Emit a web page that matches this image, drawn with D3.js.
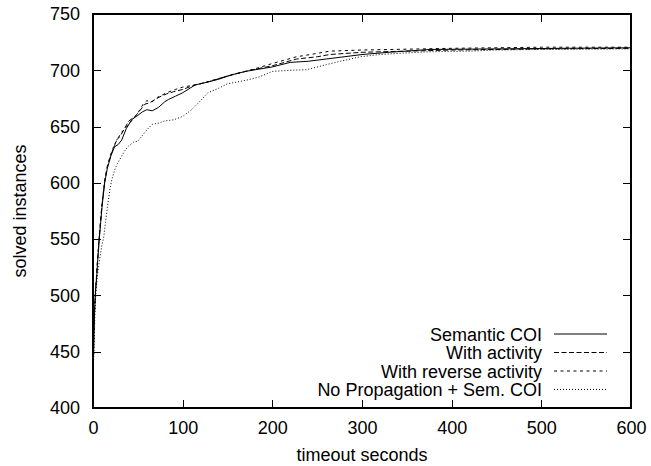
<!DOCTYPE html>
<html>
<head>
<meta charset="utf-8">
<script src="https://cdn.jsdelivr.net/npm/d3@7"></script>
<style>
  html, body { margin: 0; padding: 0; background: #fff; }
  svg { display: block; }
  text { font-family: "Liberation Sans", Arial, Helvetica, sans-serif; font-size: 18px; fill: #000; }
</style>
</head>
<body>
<svg id="chart"></svg>
<script>
// solved instances over timeout as [seconds, instances]
let semanticCOI = [[0,400],[0.5,440],[1,465],[2,490],[3,505],[4,515],[5,528],[7,550],[10,578],[13,600],[16,613],[20,624],[24,632],[28,634],[32,638],[37,648],[43,656],[50,660],[55,663],[60,665],[66,664],[73,667],[80,672],[84,674],[92,677],[100,680],[114,687],[125,689],[140,692],[155,696],[170,699],[185,701],[200,703],[220,707],[240,708],[260,710],[280,712],[300,714],[330,716],[376,718.5],[450,719],[520,719.5],[600,720]]
let withActivity = [[0,400],[0.5,442],[1,467],[2,492],[3,507],[4,517],[5,530],[7,552],[10,580],[13,601],[16,614],[20,625],[24,633],[26,638],[30,641],[35,648],[40,655],[47,659],[52,664],[58,670],[63,671],[69,674],[76,677],[82,679],[90,681],[100,683],[114,687],[130,690],[150,695],[175,700],[200,704],[227,710],[250,712],[264,714],[300,716],[350,717],[400,718],[500,719],[600,719.5]]
let reverseActivity = [[0,400],[0.5,443],[1,468],[2,493],[3,508],[4,518],[5,531],[7,553],[10,581],[13,602],[16,615],[20,626],[24,634],[28,640],[32,645],[40,652],[45,657],[50,662],[56,670],[60,673],[66,672],[72,676],[82,680],[92,683],[100,685],[120,688],[150,695],[175,700],[200,706],[227,712],[250,715],[264,717],[300,718],[400,719.5],[500,720.5],[600,720.5]]
let noPropagation = [[0,400],[0.3,430],[1,452],[2,480],[3,500],[5,518],[7,530],[10,545],[12,552],[14,565],[16,578],[19,595],[21,603],[24,611],[26,615],[30,621],[35,628],[40,633],[45,636],[50,637],[55,642],[60,647],[66,652],[73,653],[80,655],[90,656],[100,659],[110,665],[120,673],[128,680],[140,684],[150,688],[170,691],[185,694],[200,699],[220,700],[238,700.5],[260,705],[276,708],[298,712],[320,714],[340,715],[376,716.5],[420,717],[450,718],[500,718.5],[600,719]]

let seriesNames = ['Semantic COI', 'With activity', 'With reverse activity', 'No Propagation + Sem. COI']
let seriesData = [semanticCOI, withActivity, reverseActivity, noPropagation]
let dashes = [null, '5,2.5', '3,3.5', '1,2']

let xTicks = [0, 100, 200, 300, 400, 500, 600]
let yTicks = [400, 450, 500, 550, 600, 650, 700, 750]

//canvas size and plot box
let width = 651
let height = 466
let boxLeft = 93, boxRight = 631, boxTop = 14, boxBottom = 408

let svg = d3.select('#chart').attr('width', width).attr('height', height)

let xScale = d3.scaleLinear().domain([0, 600]).range([boxLeft, boxRight])
let yScale = d3.scaleLinear().domain([400, 750]).range([boxBottom, boxTop])

// axes with inward ticks, mirrored on top/right like gnuplot
let drawAxes = () => {
  svg.append('g')
    .attr('transform', `translate(0,${boxBottom})`)
    .call(d3.axisBottom(xScale).tickValues(xTicks).tickSizeInner(-8).tickSizeOuter(0).tickPadding(13))
  svg.append('g')
    .attr('transform', `translate(${boxLeft},0)`)
    .call(d3.axisLeft(yScale).tickValues(yTicks).tickSizeInner(-8).tickSizeOuter(0).tickPadding(13))
  svg.append('g')
    .attr('transform', `translate(0,${boxTop})`)
    .call(d3.axisTop(xScale).tickValues(xTicks).tickSizeInner(-8).tickSizeOuter(0).tickFormat(''))
  svg.append('g')
    .attr('transform', `translate(${boxRight},0)`)
    .call(d3.axisRight(yScale).tickValues(yTicks).tickSizeInner(-8).tickSizeOuter(0).tickFormat(''))

  svg.selectAll('.domain').remove()
  svg.selectAll('.tick line').attr('stroke', '#000').attr('shape-rendering', 'crispEdges')
  svg.selectAll('.tick text').style('fill', '#000')
  svg.selectAll('g').attr('font-size', null).attr('font-family', null)

  svg.append('rect')
    .attr('x', boxLeft).attr('y', boxTop)
    .attr('width', boxRight - boxLeft).attr('height', boxBottom - boxTop)
    .attr('fill', 'none').attr('stroke', '#000').attr('stroke-width', 1.2)
    .attr('shape-rendering', 'crispEdges')

  svg.append('text')
    .attr('x', (boxLeft + boxRight) / 2)
    .attr('y', 461)
    .attr('text-anchor', 'middle')
    .text('timeout seconds')

  svg.append('text')
    .attr('transform', `translate(26,${(boxTop + boxBottom) / 2}) rotate(-90)`)
    .attr('text-anchor', 'middle')
    .text('solved instances')
}

let drawLines = () => {
  let line = d3.line()
    .x((d) => xScale(d[0]))
    .y((d) => yScale(d[1]))

  svg.append('g').selectAll('path')
    .data(seriesData)
    .enter()
    .append('path')
    .attr('d', line)
    .attr('fill', 'none')
    .attr('stroke', '#000')
    .attr('stroke-width', 1)
    .attr('stroke-dasharray', (d, i) => dashes[i])
}

let drawLegend = () => {
  let legend = svg.append('g').selectAll('g')
    .data(seriesNames)
    .enter()
    .append('g')
    .attr('transform', (d, i) => `translate(0,${340.5 + i * 18.5})`)

  legend.append('text')
    .attr('x', 542)
    .attr('y', 0)
    .attr('text-anchor', 'end')
    .text((d) => d)

  legend.append('line')
    .attr('x1', 554).attr('x2', 607)
    .attr('y1', -6.5).attr('y2', -6.5)
    .attr('stroke', '#000')
    .attr('stroke-width', 1)
    .attr('stroke-dasharray', (d, i) => dashes[i])
}

drawAxes()
drawLines()
drawLegend()
</script>
</body>
</html>
